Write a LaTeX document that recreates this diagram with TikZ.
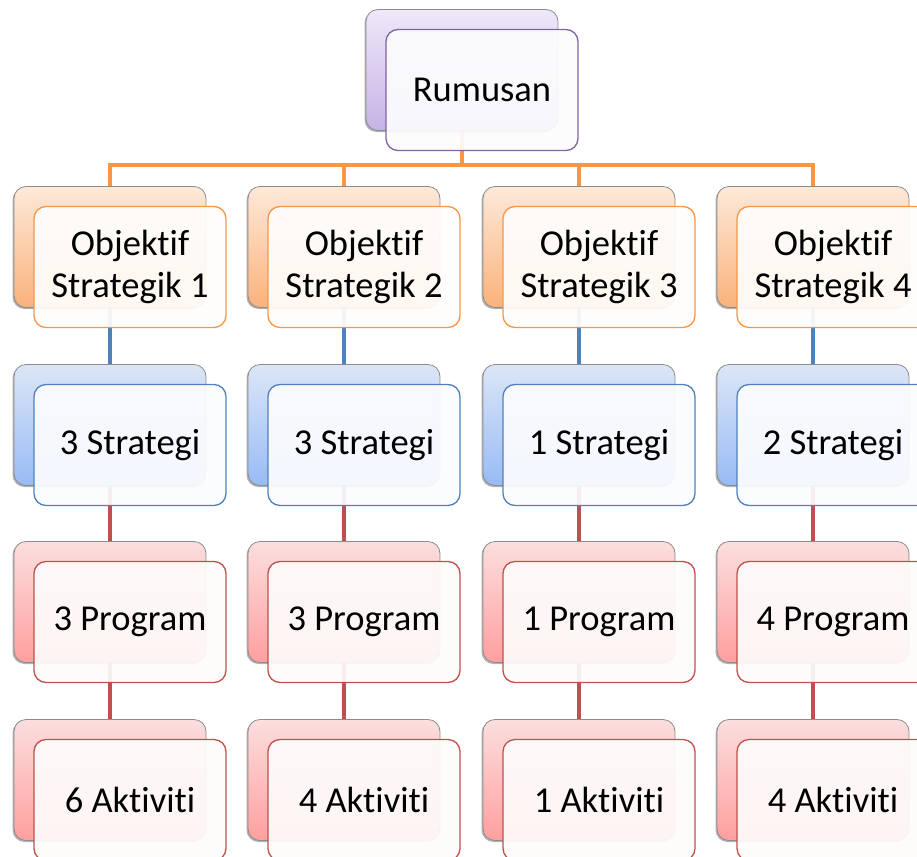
\documentclass[tikz,border=0pt]{standalone}
\usepackage{fontspec}
\setmainfont{Carlito}[RawFeature={-liga;-dlig;-calt}]
\usetikzlibrary{shadows,backgrounds}

\definecolor{purpleline}{HTML}{8064A2}
\definecolor{orangeline}{HTML}{F79646}
\definecolor{blueline}{HTML}{4F81BD}
\definecolor{redline}{HTML}{C0504D}

\tikzset{
  box/.style={rounded corners=12pt, minimum width=192pt, minimum height=121pt, inner sep=0pt},
  back/.style={box, draw=black!45, line width=0.8pt,
    drop shadow={shadow xshift=-1.5pt, shadow yshift=-1.5pt, opacity=0.3, fill=black}},
  purplebg/.style={top color={rgb,255:red,238;green,232;blue,248}, bottom color={rgb,255:red,198;green,179;blue,230}},
  orangebg/.style={top color={rgb,255:red,253;green,233;blue,217}, bottom color={rgb,255:red,250;green,178;blue,123}},
  bluebg/.style={top color={rgb,255:red,220;green,230;blue,246}, bottom color={rgb,255:red,152;green,187;blue,245}},
  redbg/.style={top color={rgb,255:red,252;green,222;blue,222}, bottom color={rgb,255:red,255;green,159;blue,159}},
  front/.style={box, draw=#1, line width=1.3pt, fill=#1!2, fill opacity=0.93,
    text opacity=1, align=center, font=\fontsize{36.5}{42}\selectfont},
  link/.style={line width=4.5pt, draw=#1},
}

% one item of the chart: back plate plus the text card on top
\newcommand\orgitem[5]{%
  \node[back, #4bg] (#1) at (#2,#3) {};
  \node[front=#4line] (#1t) at (#2+20,#3+20) {#5};
}

\begin{document}
\begin{tikzpicture}[x=1pt, y=-1pt]
  \useasboundingbox (0,0) rectangle (917,856);
  \clip (0,0) rectangle (917,856);

  % Top
  \orgitem{rumusan}{462}{70}{purple}{Rumusan}
  \coordinate (bus) at (462,165);

  % Objektif strategik
  \orgitem{obj1}{110}{247}{orange}{Objektif\\Strategik 1}
  \orgitem{obj2}{344}{247}{orange}{Objektif\\Strategik 2}
  \orgitem{obj3}{579}{247}{orange}{Objektif\\Strategik 3}
  \orgitem{obj4}{813}{247}{orange}{Objektif\\Strategik 4}

  % Strategi
  \orgitem{str1}{110}{425}{blue}{3 Strategi}
  \orgitem{str2}{344}{425}{blue}{3 Strategi}
  \orgitem{str3}{579}{425}{blue}{1 Strategi}
  \orgitem{str4}{813}{425}{blue}{2 Strategi}

  % Program
  \orgitem{prog1}{110}{602}{red}{3 Program}
  \orgitem{prog2}{344}{602}{red}{3 Program}
  \orgitem{prog3}{579}{602}{red}{1 Program}
  \orgitem{prog4}{813}{602}{red}{4 Program}

  % Aktiviti
  \orgitem{akt1}{110}{780}{red}{6 Aktiviti}
  \orgitem{akt2}{344}{780}{red}{4 Aktiviti}
  \orgitem{akt3}{579}{780}{red}{1 Aktiviti}
  \orgitem{akt4}{813}{780}{red}{4 Aktiviti}

  % Connectors
  \begin{pgfonlayer}{background}
    \draw[link=orangeline] (rumusan.south) -- (bus);
    \draw[link=orangeline] (bus) -| (obj1.north);
    \draw[link=orangeline] (bus) -| (obj2.north);
    \draw[link=orangeline] (bus) -| (obj3.north);
    \draw[link=orangeline] (bus) -| (obj4.north);

    \draw[link=blueline] (obj1.south) -- (str1.north);
    \draw[link=blueline] (obj2.south) -- (str2.north);
    \draw[link=blueline] (obj3.south) -- (str3.north);
    \draw[link=blueline] (obj4.south) -- (str4.north);

    \draw[link=redline] (str1.south) -- (prog1.north);
    \draw[link=redline] (str2.south) -- (prog2.north);
    \draw[link=redline] (str3.south) -- (prog3.north);
    \draw[link=redline] (str4.south) -- (prog4.north);

    \draw[link=redline] (prog1.south) -- (akt1.north);
    \draw[link=redline] (prog2.south) -- (akt2.north);
    \draw[link=redline] (prog3.south) -- (akt3.north);
    \draw[link=redline] (prog4.south) -- (akt4.north);
  \end{pgfonlayer}
\end{tikzpicture}
\end{document}
